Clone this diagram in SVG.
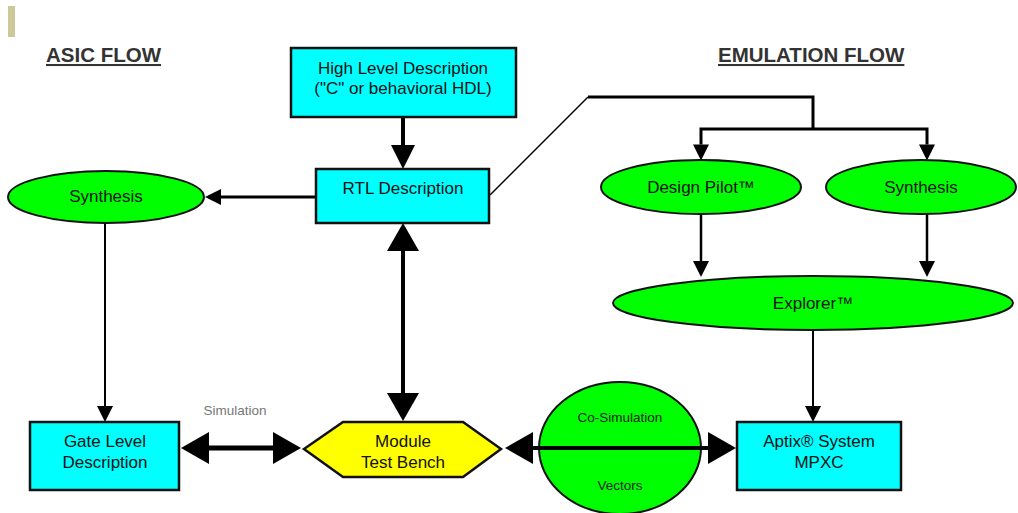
<svg xmlns="http://www.w3.org/2000/svg" width="1018" height="513" viewBox="0 0 1018 513">
<style>
.box{fill:#00ffff;stroke:#111;stroke-width:2.5}
.ell{fill:#00ff00;stroke:#111;stroke-width:2}
.hex{fill:#ffff00;stroke:#111;stroke-width:2.5}
.t{font-family:"Liberation Sans",Arial,sans-serif;font-size:17px;fill:#111;text-anchor:middle}
.s{font-family:"Liberation Sans",Arial,sans-serif;font-size:13.5px;fill:#222;text-anchor:middle}
.title{font-family:"Liberation Sans",Arial,sans-serif;font-size:20.5px;font-weight:bold;fill:#333;text-decoration:underline}
.c{fill:none;stroke:#000}
</style>
<defs>
<marker id="big" markerUnits="userSpaceOnUse" markerWidth="28" markerHeight="32" refX="0" refY="16" orient="auto-start-reverse" overflow="visible"><path d="M0,0 L28,16 L0,32 z" fill="#000"/></marker>
<marker id="mid" markerUnits="userSpaceOnUse" markerWidth="24" markerHeight="24" refX="0" refY="12" orient="auto-start-reverse" overflow="visible"><path d="M0,0 L24,12 L0,24 z" fill="#000"/></marker>
<marker id="sm" markerUnits="userSpaceOnUse" markerWidth="16" markerHeight="16" refX="0" refY="8" orient="auto-start-reverse" overflow="visible"><path d="M0,0 L16,8 L0,16 z" fill="#000"/></marker>
</defs>
<rect width="1018" height="513" fill="#fff"/>
<rect x="8" y="6" width="7" height="31" fill="#cbc89a"/>
<text class="title" x="46" y="62">ASIC FLOW</text>
<text class="title" x="718" y="62">EMULATION FLOW</text>

<g id="co-simulation">
<ellipse class="ell" cx="620" cy="448" rx="81" ry="66"/>
<text class="s" x="620" y="422">Co-Simulation</text>
<text class="s" x="620" y="490">Vectors</text>
</g>

<g id="connectors">
<line class="c" x1="403" y1="117" x2="403" y2="145" stroke-width="4" marker-end="url(#mid)"/>
<line class="c" x1="316" y1="197" x2="221" y2="197" stroke-width="3" marker-end="url(#sm)"/>
<line class="c" x1="105" y1="223" x2="105" y2="406" stroke-width="2" marker-end="url(#sm)"/>
<line class="c" x1="403" y1="251" x2="403" y2="393" stroke-width="4" marker-start="url(#big)" marker-end="url(#big)"/>
<line class="c" x1="209" y1="448" x2="273" y2="448" stroke-width="5" marker-start="url(#big)" marker-end="url(#big)"/>
<line class="c" x1="533" y1="448" x2="708" y2="448" stroke-width="4" marker-start="url(#big)" marker-end="url(#big)"/>
<polyline class="c" points="490,195 588,97" stroke-width="1.5"/>
<polyline class="c" points="588,97 813,97 813,129" stroke-width="3"/>
<polyline class="c" points="701,144 701,129 927,129 927,144" stroke-width="3"/>
<line class="c" x1="701" y1="144" x2="701" y2="144.5" stroke-width="3" marker-end="url(#sm)"/>
<line class="c" x1="927" y1="144" x2="927" y2="144.5" stroke-width="3" marker-end="url(#sm)"/>
<line class="c" x1="701" y1="215" x2="701" y2="261" stroke-width="2.5" marker-end="url(#sm)"/>
<line class="c" x1="927" y1="214" x2="927" y2="261" stroke-width="2.5" marker-end="url(#sm)"/>
<line class="c" x1="813" y1="330" x2="813" y2="406" stroke-width="2" marker-end="url(#sm)"/>
</g>

<g id="high-level">
<rect class="box" x="291" y="48" width="225" height="69"/>
<text class="t" x="403" y="74">High Level Description</text>
<text class="t" x="403" y="94">("C" or behavioral HDL)</text>
</g>
<g id="rtl">
<rect class="box" x="316" y="169" width="173" height="54"/>
<text class="t" x="403" y="194">RTL Description</text>
</g>
<g id="synthesis-asic">
<ellipse class="ell" cx="106" cy="197" rx="98" ry="26"/>
<text class="t" x="106" y="202">Synthesis</text>
</g>
<g id="gate-level">
<rect class="box" x="30" y="422" width="149" height="68"/>
<text class="t" x="105" y="447">Gate Level</text>
<text class="t" x="105" y="468">Description</text>
</g>
<g id="module-test-bench">
<polygon class="hex" points="304,449 343,422 463,422 501,449 463,477 343,477"/>
<text class="t" x="403" y="447">Module</text>
<text class="t" x="403" y="468">Test Bench</text>
</g>
<g id="simulation-label">
<text class="s" x="235" y="415" style="fill:#777">Simulation</text>
</g>
<g id="design-pilot">
<ellipse class="ell" cx="701" cy="187" rx="100" ry="27"/>
<text class="t" x="701" y="193">Design Pilot™</text>
</g>
<g id="synthesis-emu">
<ellipse class="ell" cx="921" cy="187" rx="95" ry="27"/>
<text class="t" x="921" y="193">Synthesis</text>
</g>
<g id="explorer">
<ellipse class="ell" cx="813" cy="303" rx="200" ry="27"/>
<text class="t" x="813" y="309">Explorer™</text>
</g>
<g id="aptix">
<rect class="box" x="737" y="422" width="164" height="68"/>
<text class="t" x="819" y="447">Aptix® System</text>
<text class="t" x="819" y="468">MPXC</text>
</g>
</svg>
